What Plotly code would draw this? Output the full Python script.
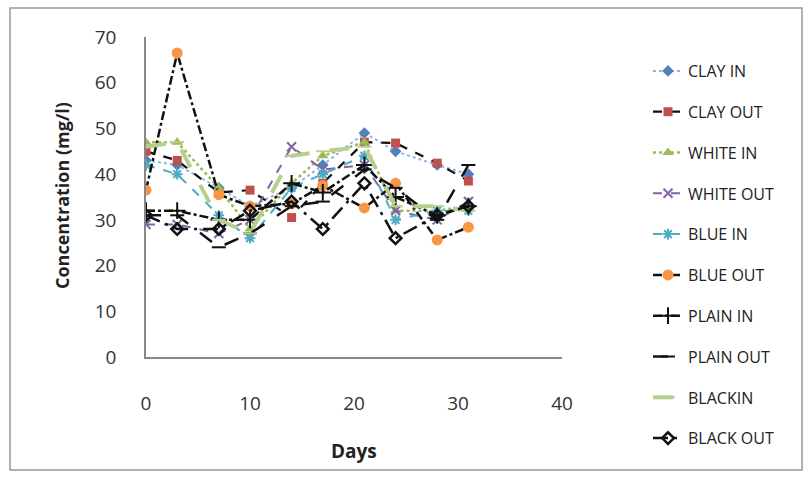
import plotly.graph_objects as go

days = [0, 3, 7, 10, 14, 17, 21, 24, 28, 31]

clay_in = [43, 42, 37, 33, 37, 42, 49, 45, 42, 40]
clay_out = [45, 43, 36, 36.5, 30.5, 38, 47, 46.8, 42.4, 38.5]
white_in = [47, 47, 37, 28, 38, 44, 47, 32, 32, 33]
white_out = [29, 29, 27, 30, 46, 41, 42, 32, 30, 34]
blue_in = [42, 40, 31, 26, 37, 40, 44, 30, 32, 32]
blue_out = [36.5, 66.5, 35.5, 33, 33.5, 37.5, 32.6, 38, 25.6, 28.4]
plain_in = [32, 32, 30, 30, 38, 36, 42, 35, 31, 33]
plain_out = [31, 31, 24, 27, 33, 34, 41, 37, 30, 42]
black_in = [46, 47, 30, 27, 44, 45, 46, 33, 33, 32]
black_out = [31, 28, 28, 32, 34, 28, 38, 26, 31, 33]

series = [
    ("CLAY IN", clay_in, dict(color="#8EB4E3", width=2, dash="dot"),
     dict(symbol="diamond", color="#4F81BD", size=9)),
    ("CLAY OUT", clay_out, dict(color="#111111", width=2.2, dash="dash"),
     dict(symbol="square", color="#C0504D", size=9)),
    ("WHITE IN", white_in, dict(color="#9BBB59", width=2.5, dash="dot"),
     dict(symbol="triangle-up", color="#9BBB59", size=10)),
    ("WHITE OUT", white_out, dict(color="#8064A2", width=2, dash="dash"),
     dict(symbol="x-thin-open", color="#8064A2", size=9, line=dict(width=2, color="#8064A2"))),
    ("BLUE IN", blue_in, dict(color="#4BACC6", width=2, dash="dash"),
     dict(symbol="asterisk-open", color="#4BACC6", size=9, line=dict(width=2, color="#4BACC6"))),
    ("BLUE OUT", blue_out, dict(color="#111111", width=2.5, dash="dashdot"),
     dict(symbol="circle", color="#F79646", size=11)),
    ("PLAIN IN", plain_in, dict(color="#111111", width=2.5, dash="dashdot"),
     dict(symbol="cross-thin-open", color="#111111", size=12, line=dict(width=2, color="#111111"))),
    ("PLAIN OUT", plain_out, dict(color="#111111", width=2.5, dash="longdash"),
     dict(symbol="line-ew-open", color="#111111", size=10, line=dict(width=2, color="#111111"))),
    ("BLACKIN", black_in, dict(color="#B7CF8C", width=4, dash="longdash"),
     dict(symbol="line-ew-open", color="#B7CF8C", size=10, line=dict(width=2, color="#B7CF8C"))),
    ("BLACK OUT", black_out, dict(color="#111111", width=2.5, dash="longdashdot"),
     dict(symbol="diamond-open", color="#111111", size=9, line=dict(width=2.5, color="#111111"))),
]

fig = go.Figure()
for i, (name, vals, ln, mk) in enumerate(series):
    fig.add_trace(go.Scatter(x=days, y=vals, name=name, mode="lines+markers",
                             line=ln, marker=mk, legendgroup=f"g{i}"))

W, H = 810, 502
L, R, T, B = 146, 562, 37, 357
pw, ph = R - L, B - T

def px_x(p):
    return (p - L) / pw

def px_y(p):
    return (B - p) / ph

fig.update_layout(
    width=W, height=H,
    margin=dict(l=L, r=W - R, t=T, b=H - B),
    paper_bgcolor="white", plot_bgcolor="white",
    font=dict(family="Open Sans, Liberation Sans, sans-serif", color="#333333"),
    showlegend=True,
    legend=dict(
        xref="container", yref="container",
        x=648 / W, y=1 - 54 / H, xanchor="left", yanchor="top",
        font=dict(size=16, color="#222222"),
        traceorder="grouped", tracegroupgap=17,
        bgcolor="rgba(0,0,0,0)",
        maxheight=490,
    ),
    xaxis=dict(range=[0, 40], tickvals=[0, 10, 20, 30, 40], showgrid=False,
               zeroline=False, showline=True, linecolor="#888888", linewidth=1.5,
               ticks="", tickfont=dict(size=19, color="#333333"),
               ticklabelstandoff=28),
    yaxis=dict(range=[0, 70], tickvals=[0, 10, 20, 30, 40, 50, 60, 70], showgrid=False,
               zeroline=False, showline=True, linecolor="#888888", linewidth=1.5,
               ticks="", tickfont=dict(size=19, color="#333333"),
               ticklabelstandoff=24),
    shapes=[dict(type="rect", xref="paper", yref="paper",
                 x0=px_x(10), x1=px_x(802), y0=px_y(470), y1=px_y(8),
                 line=dict(color="#999999", width=1.5), fillcolor="rgba(0,0,0,0)", layer="below")],
    annotations=[
        dict(text="<b>Days</b>", xref="paper", yref="paper", x=px_x(354), y=px_y(451),
             showarrow=False, font=dict(size=19, color="#222222"), xanchor="center", yanchor="middle"),
        dict(text="<b>Concentration (mg/l)</b>", xref="paper", yref="paper", x=px_x(62), y=px_y(196),
             showarrow=False, textangle=-90, font=dict(size=18, color="#222222"),
             xanchor="center", yanchor="middle"),
    ],
)

fig.write_html("out.html")
